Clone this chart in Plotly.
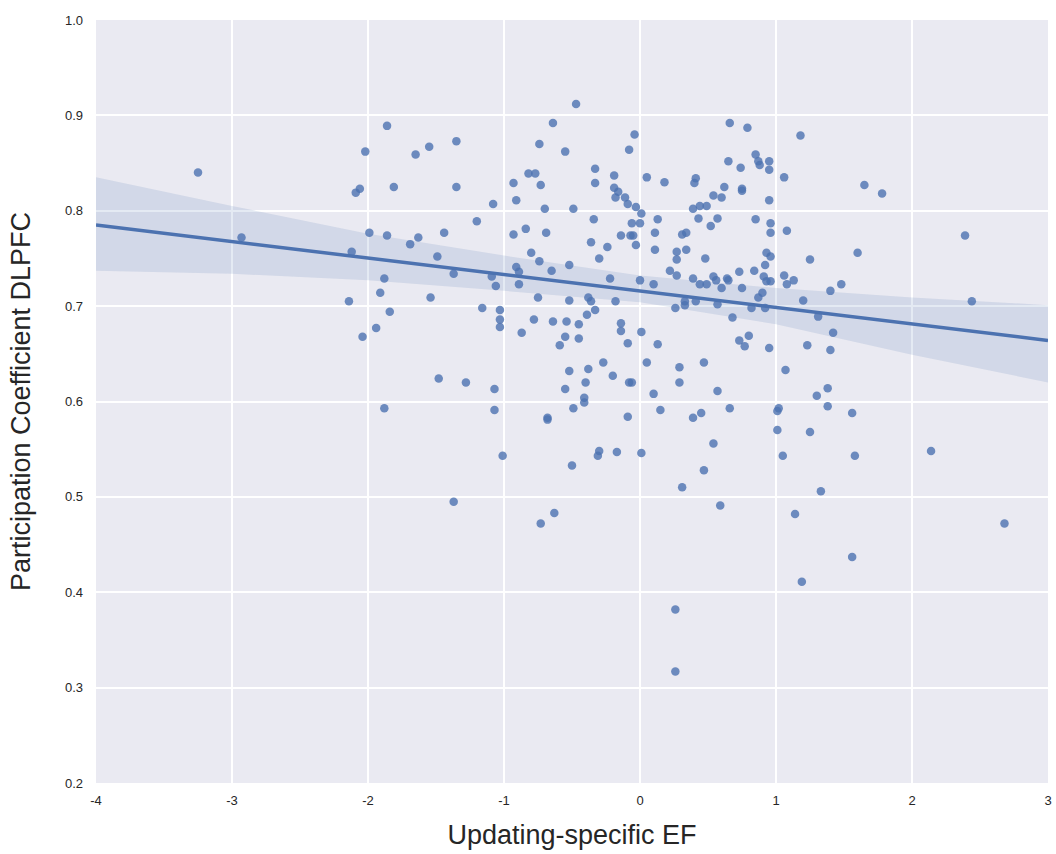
import plotly.graph_objects as go

# Scatter data (Updating-specific EF, Participation Coefficient DLPFC)
ef = [
    -3.25, -2.93, -1.86, -2.02, -2.06, -2.09, -1.81, -1.99, -1.86, -2.12, -1.88, -1.91, -2.14, -1.69,
    -1.84, -1.94, -2.04, -1.88,
    -0.47, -0.64, -1.65, -1.55, -1.35, -0.74, -0.55, -1.35, -0.33, -0.19, -0.08, -0.33, -0.93,
    -0.82, -0.77, -0.73, -0.19, -0.16, -0.18, -0.11, -0.09, -0.91, -1.08, -0.70, -0.49, -0.34,
    -1.20, -0.93, -0.84, -0.69, -1.44, -1.63, -0.36, -0.24, -0.14, -0.80, -0.74, -0.30, -1.49,
    -0.65, -0.52, -0.91, -0.89, -1.37, -1.09, -1.06, -0.89, -0.22, -1.54, -0.75, -0.52, -0.38,
    -0.36, -0.18,
    -1.16, -1.03, -1.03, -1.03, -0.33, -0.39, -0.78, -0.64, -0.54, -0.45, -0.14, -0.14, -0.87,
    -0.55, -0.45, -0.59, -0.09, -0.27, -0.52, -0.38, -0.20, -0.40, -0.08, -1.48, -1.28, -1.07,
    -0.55, -0.41, -0.41, -0.49, -1.07, -0.68, -0.68, -0.09, -1.01, -0.30, -0.31, -0.17, -0.50,
    -1.37, -0.63, -0.73,
    0.66, 0.79, 1.18, -0.04, 0.65, 0.74, 0.85, 0.87, 0.88, 0.95, 0.95, 0.05, 0.18, 0.41, 0.40,
    1.06, 0.62, 0.75, 0.75, 0.54, 0.60, 0.95, -0.03, 0.01, 0.39, 0.44, 0.49, 0.43, 0.57, 0.13,
    0.85, -0.06, 0.00, 0.96, 0.52, -0.07, -0.05, -0.03, 0.11, 0.31, 0.34, 0.96, 1.08, 0.11, 0.27,
    0.34, 0.48, 0.27, 0.93, 0.96, 0.92, 1.25, 0.22, 0.27, 0.00, 0.10, 0.39, 0.44, 0.49, 0.54,
    0.56, 0.60, 0.64, 0.65, 0.73, 0.75, 0.84, 0.91, 0.93, 0.96, 1.06, 1.08, 1.13, 0.90, 0.87,
    1.20, 1.40, 1.48, 0.33,
    0.26, 0.33, 0.41, 0.57, 0.68, 0.82, 0.92, 1.31, 1.42, 1.40, 1.23, 0.95, 0.73, 0.77, 0.80,
    0.01, 0.13, 0.05, 0.29, 0.47, -0.06, 0.29, 0.10, 0.57, 1.07, 1.38, 1.30, 1.38, 0.15, 0.39,
    0.45, 0.66, 1.01, 1.02, 1.01, 1.25, 0.01, 0.54, 1.05, 0.47, 0.31, 1.33, 0.59,
    1.14, 1.19, 0.26, 0.26,
    1.65, 1.78, 2.39, 1.60, 2.44, 1.56, 1.58, 2.14, 2.68, 1.56,
]
pc_dlpfc = [
    0.840, 0.772, 0.889, 0.862, 0.823, 0.819, 0.825, 0.777, 0.774, 0.757, 0.729, 0.714, 0.705, 0.765,
    0.694, 0.677, 0.668, 0.593,
    0.912, 0.892, 0.859, 0.867, 0.873, 0.870, 0.862, 0.825, 0.844, 0.837, 0.864, 0.829, 0.829,
    0.839, 0.839, 0.827, 0.824, 0.820, 0.814, 0.814, 0.807, 0.811, 0.807, 0.802, 0.802, 0.791,
    0.789, 0.775, 0.781, 0.777, 0.777, 0.772, 0.767, 0.762, 0.774, 0.756, 0.747, 0.750, 0.752,
    0.737, 0.743, 0.741, 0.736, 0.734, 0.731, 0.721, 0.723, 0.729, 0.709, 0.709, 0.706, 0.709,
    0.705, 0.705,
    0.698, 0.696, 0.686, 0.678, 0.696, 0.691, 0.686, 0.684, 0.684, 0.681, 0.682, 0.674, 0.672,
    0.668, 0.666, 0.659, 0.661, 0.641, 0.632, 0.634, 0.627, 0.620, 0.620, 0.624, 0.620, 0.613,
    0.613, 0.604, 0.599, 0.593, 0.591, 0.583, 0.581, 0.584, 0.543, 0.548, 0.543, 0.547, 0.533,
    0.495, 0.483, 0.472,
    0.892, 0.887, 0.879, 0.880, 0.852, 0.845, 0.859, 0.852, 0.848, 0.852, 0.843, 0.835, 0.830,
    0.834, 0.829, 0.835, 0.825, 0.823, 0.821, 0.816, 0.814, 0.811, 0.804, 0.797, 0.802, 0.805,
    0.805, 0.792, 0.792, 0.791, 0.791, 0.787, 0.787, 0.787, 0.784, 0.774, 0.774, 0.764, 0.777,
    0.775, 0.777, 0.777, 0.779, 0.759, 0.757, 0.759, 0.750, 0.749, 0.756, 0.752, 0.743, 0.749,
    0.737, 0.732, 0.727, 0.723, 0.729, 0.723, 0.723, 0.731, 0.727, 0.719, 0.729, 0.727, 0.736,
    0.719, 0.737, 0.731, 0.726, 0.726, 0.732, 0.723, 0.727, 0.714, 0.709, 0.706, 0.716, 0.723,
    0.705,
    0.698, 0.701, 0.705, 0.702, 0.688, 0.698, 0.698, 0.689, 0.672, 0.654, 0.659, 0.656, 0.664,
    0.658, 0.669, 0.673, 0.660, 0.641, 0.636, 0.641, 0.620, 0.620, 0.608, 0.611, 0.633, 0.614,
    0.606, 0.595, 0.591, 0.583, 0.588, 0.593, 0.590, 0.593, 0.570, 0.568, 0.546, 0.556, 0.543,
    0.528, 0.510, 0.506, 0.491,
    0.482, 0.411, 0.382, 0.317,
    0.827, 0.818, 0.774, 0.756, 0.705, 0.588, 0.543, 0.548, 0.472, 0.437,
]

# Regression line and its confidence band
fit_x = [-4, 3]
fit_y = [0.785, 0.664]
band_x = [-4, -3, -2, -1, 0, 1, 2, 3]
band_upper = [0.835, 0.805, 0.776, 0.753, 0.732, 0.719, 0.709, 0.701]
band_lower = [0.737, 0.734, 0.727, 0.716, 0.704, 0.681, 0.649, 0.620]

x_ticks = [-4, -3, -2, -1, 0, 1, 2, 3]
y_ticks = [0.2, 0.3, 0.4, 0.5, 0.6, 0.7, 0.8, 0.9, 1.0]
y_tick_labels = ["0.2", "0.3", "0.4", "0.5", "0.6", "0.7", "0.8", "0.9", "1.0"]

BLUE = "#4C72B0"

fig = go.Figure()
fig.add_trace(go.Scatter(
    x=band_x + band_x[::-1], y=band_upper + band_lower[::-1],
    fill="toself", fillcolor="rgba(76,114,176,0.15)", line=dict(width=0),
    mode="lines", hoverinfo="skip", showlegend=False,
))
fig.add_trace(go.Scatter(
    x=ef, y=pc_dlpfc, mode="markers",
    marker=dict(size=8.5, color=BLUE, opacity=0.8, line=dict(width=0)),
    showlegend=False,
))
fig.add_trace(go.Scatter(
    x=fit_x, y=fit_y, mode="lines",
    line=dict(color=BLUE, width=3.5), showlegend=False,
))

fig.update_layout(
    width=1056, height=854,
    margin=dict(l=96, r=8, t=20, b=71),
    paper_bgcolor="white", plot_bgcolor="#EAEAF2",
    font=dict(family="Liberation Sans, Arial, sans-serif", color="#262626"),
    showlegend=False,
)
fig.update_xaxes(
    range=[-4, 3], tickvals=x_ticks, ticktext=[str(t) for t in x_ticks],
    showgrid=True, gridcolor="white", gridwidth=1.5, zeroline=False,
    showline=False, ticks="", tickfont=dict(size=13, color="#262626"),
    ticklabelstandoff=8, automargin=False,
    title=dict(text="Updating-specific EF", font=dict(size=27, color="#262626"), standoff=18),
)
fig.update_yaxes(
    range=[0.2, 1.0], tickvals=y_ticks, ticktext=y_tick_labels,
    showgrid=True, gridcolor="white", gridwidth=1.5, zeroline=False,
    showline=False, ticks="", tickfont=dict(size=13, color="#262626"),
    ticklabelstandoff=12, automargin=False,
    title=dict(text="Participation Coefficient DLPFC", font=dict(size=27, color="#262626"), standoff=26),
)

fig.write_html("out.html")
